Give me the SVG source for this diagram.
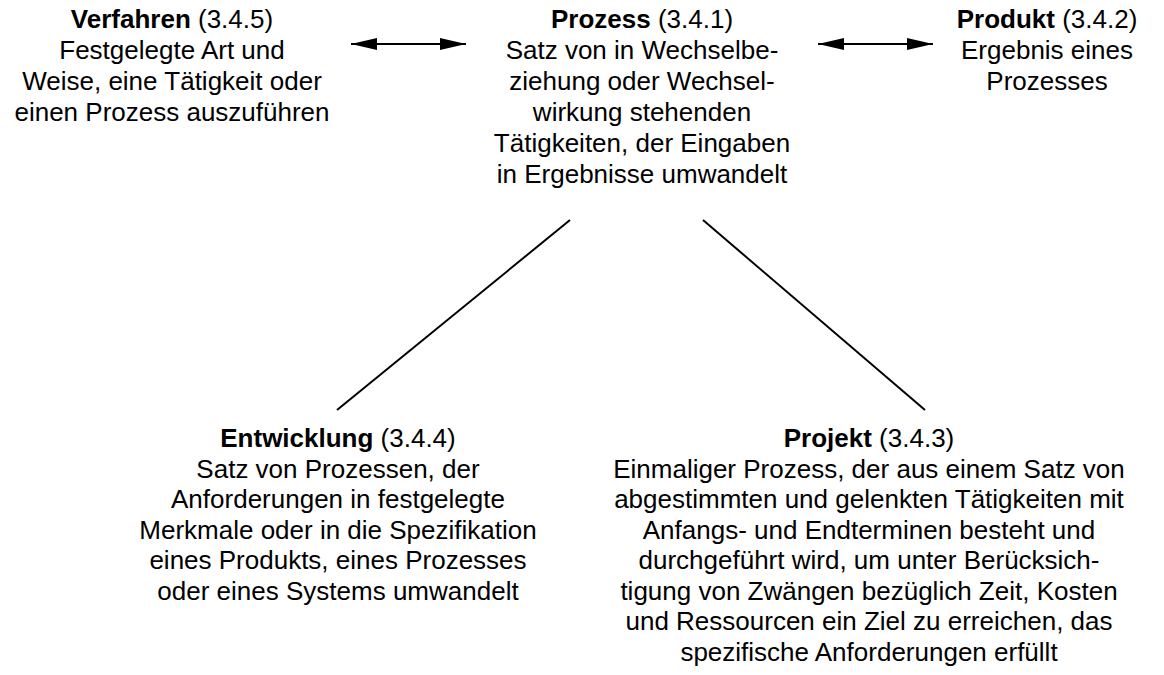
<svg xmlns="http://www.w3.org/2000/svg" width="1164" height="675" viewBox="0 0 1164 675">
  <style>
    text { font-family: "Liberation Sans", Arial, sans-serif; font-size: 26px; fill: #000; text-anchor: middle; }
    .b { font-weight: bold; }
    .link { stroke: #000; stroke-width: 2; fill: none; }
  </style>
  <defs>
    <marker id="head" markerWidth="26" markerHeight="12" refX="26" refY="6" orient="auto-start-reverse" markerUnits="userSpaceOnUse">
      <path d="M0,0 L26,6 L0,12 Z" fill="#000"/>
    </marker>
  </defs>
  <rect width="1164" height="675" fill="#fff"/>

  <g id="verfahren">
    <text x="172" y="28"><tspan class="b">Verfahren</tspan> (3.4.5)</text>
    <text x="172" y="59">Festgelegte Art und</text>
    <text x="172" y="90">Weise, eine Tätigkeit oder</text>
    <text x="172" y="121">einen Prozess auszuführen</text>
  </g>

  <g id="prozess">
    <text x="642" y="28"><tspan class="b">Prozess</tspan> (3.4.1)</text>
    <text x="642" y="59">Satz von in Wechselbe-</text>
    <text x="642" y="90">ziehung oder Wechsel-</text>
    <text x="642" y="121">wirkung stehenden</text>
    <text x="642" y="152">Tätigkeiten, der Eingaben</text>
    <text x="642" y="183">in Ergebnisse umwandelt</text>
  </g>

  <g id="produkt">
    <text x="1047" y="28"><tspan class="b">Produkt</tspan> (3.4.2)</text>
    <text x="1047" y="59">Ergebnis eines</text>
    <text x="1047" y="90">Prozesses</text>
  </g>

  <g id="entwicklung">
    <text x="338" y="447"><tspan class="b">Entwicklung</tspan> (3.4.4)</text>
    <text x="338" y="477.5">Satz von Prozessen, der</text>
    <text x="338" y="508">Anforderungen in festgelegte</text>
    <text x="338" y="538.5">Merkmale oder in die Spezifikation</text>
    <text x="338" y="569">eines Produkts, eines Prozesses</text>
    <text x="338" y="599.5">oder eines Systems umwandelt</text>
  </g>

  <g id="projekt">
    <text x="869" y="447"><tspan class="b">Projekt</tspan> (3.4.3)</text>
    <text x="869" y="477.5">Einmaliger Prozess, der aus einem Satz von</text>
    <text x="869" y="508">abgestimmten und gelenkten Tätigkeiten mit</text>
    <text x="869" y="538.5">Anfangs- und Endterminen besteht und</text>
    <text x="869" y="569">durchgeführt wird, um unter Berücksich-</text>
    <text x="869" y="599.5">tigung von Zwängen bezüglich Zeit, Kosten</text>
    <text x="869" y="630">und Ressourcen ein Ziel zu erreichen, das</text>
    <text x="869" y="660.5">spezifische Anforderungen erfüllt</text>
  </g>

  <g id="connectors">
    <line class="link" x1="351" y1="44" x2="466" y2="44" marker-start="url(#head)" marker-end="url(#head)"/>
    <line class="link" x1="818" y1="44" x2="933" y2="44" marker-start="url(#head)" marker-end="url(#head)"/>
    <line class="link" x1="570" y1="220" x2="337" y2="410"/>
    <line class="link" x1="703" y1="220" x2="925" y2="410"/>
  </g>
</svg>
